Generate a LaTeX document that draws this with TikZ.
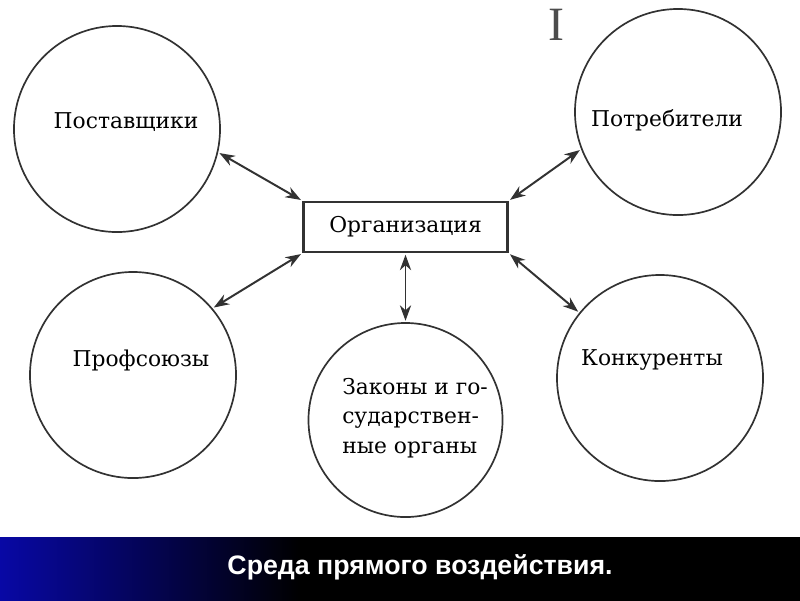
\documentclass[tikz,border=0pt]{standalone}
\usepackage{fontspec}
\setmainfont{DejaVu Serif}
\newfontfamily\capfont{Liberation Sans}
\newfontfamily\cursorfont{Liberation Serif}
\usetikzlibrary{arrows.meta,positioning}
\definecolor{inkgray}{RGB}{50,50,50}
\definecolor{bannerblue}{RGB}{8,8,165}

\begin{document}
\begin{tikzpicture}[x=0.025cm, y=-0.025cm,
  party/.style={circle, draw=inkgray, line width=1.2pt, minimum size=5.15cm,
                inner sep=0pt},
  org/.style={rectangle, draw=inkgray, line width=1.9pt, minimum width=5.1cm,
              minimum height=1.25cm, font=\fontsize{15.5}{18}\selectfont,
              text=black},
  lbl/.style={font=\fontsize{15.5}{21}\selectfont, text=black, align=left},
  link/.style={{Stealth[length=11pt,width=8pt]}-{Stealth[length=11pt,width=8pt]},
               line width=1.4pt, draw=inkgray, shorten <=1pt, shorten >=1pt}
]
  \useasboundingbox (0,0) rectangle (800,600);
  \fill[white] (0,0) rectangle (800,600);

  % organisation and its partners
  \node[org] (org) at (405.5,227) {Организация};

  \node[party] (sup) at (117,129) {};
  \node[party] (cons) at (678,112) {};
  \node[party] (union) at (133,375) {};
  \node[party] (comp) at (660,378) {};
  \node[party, minimum size=4.85cm] (law) at (405.5,420) {};

  \node[lbl] (supt) at (126,122) {Поставщики};
  \node[lbl] (const) at (667,120) {Потребители};
  \node[lbl] (uniont) at (141,360) {Профсоюзы};
  \node[lbl] (compt) at (652,360) {Конкуренты};
  \node[lbl] (lawt) at (415,418) {Законы и го-\\сударствен-\\ные органы};

  \node[font=\cursorfont\fontsize{34}{34}\selectfont, text=black!70]
    (cursor) at (556,25) {I};

  \draw[link] (org.north west) -- (sup.-13);
  \draw[link] (org.north east) -- (cons.201);
  \draw[link] (org.south west) -- (union.40);
  \draw[link] (org.south east) -- (comp.141);
  \draw[link] (org.south) -- (law.north);

  % caption strip
  \fill[black] (0,537) rectangle (800,602);
  \shade[left color=bannerblue, right color=black] (0,537) rectangle (300,602);
  \node[font=\capfont\bfseries\fontsize{19}{22}\selectfont, text=white]
    (caption) at (420,567) {Среда прямого воздействия.};
\end{tikzpicture}
\end{document}
